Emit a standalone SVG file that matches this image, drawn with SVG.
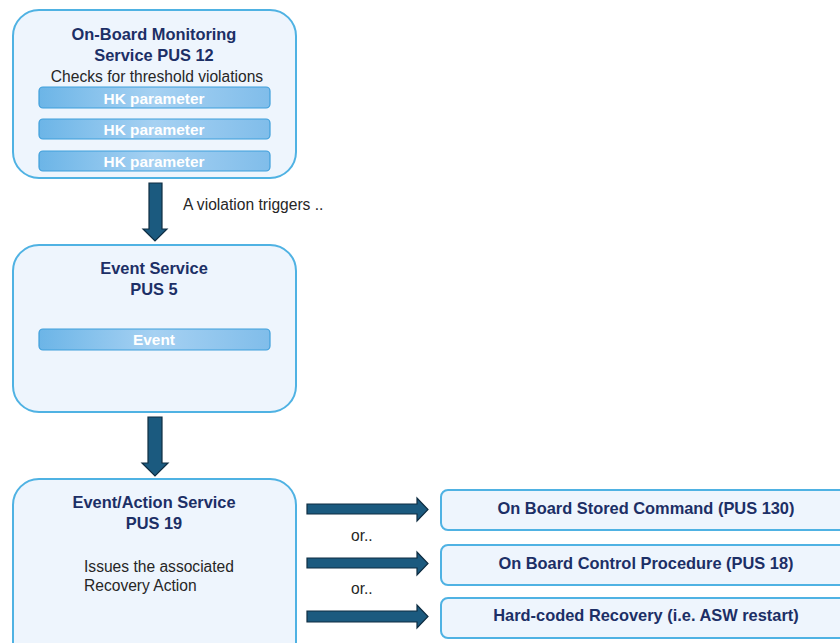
<svg xmlns="http://www.w3.org/2000/svg" width="840" height="643" viewBox="0 0 840 643">
  <defs>
    <linearGradient id="barFill" x1="0" y1="0" x2="1" y2="0">
      <stop offset="0" stop-color="#6cb5e7"/>
      <stop offset="0.5" stop-color="#a6d1f2"/>
      <stop offset="1" stop-color="#80bdea"/>
    </linearGradient>
  </defs>
  <style>
    .service { fill: #eef5fd; stroke: #4fb2e3; stroke-width: 2; }
    .target { fill: #eef5fd; stroke: #4fb2e3; stroke-width: 2; }
    .bar { fill: url(#barFill); stroke: #3f9fdb; stroke-width: 1.2; }
    .title { font-family: "Liberation Sans", Arial, sans-serif; font-weight: bold; font-size: 16.4px; fill: #1c2f66; text-anchor: middle; }
    .barText { font-family: "Liberation Sans", Arial, sans-serif; font-weight: bold; font-size: 15.4px; fill: #ffffff; text-anchor: middle; }
    .body { font-family: "Liberation Sans", Arial, sans-serif; font-size: 15.6px; fill: #262626; }
    .arrow { fill: #1b5a7f; stroke: #0f2d42; stroke-width: 1.2; stroke-linejoin: miter; }
  </style>
  <rect width="840" height="643" fill="#ffffff"/>

  <!-- PUS 12 monitoring service -->
  <g id="monitoring">
    <rect class="service" x="13" y="10" width="283" height="168" rx="26" ry="26"/>
    <text class="title" x="154" y="40">On-Board Monitoring</text>
    <text class="title" x="154" y="61">Service PUS 12</text>
    <text class="body" x="157" y="81.5" text-anchor="middle">Checks for threshold violations</text>
    <rect class="bar" x="39" y="87" width="231" height="21" rx="4"/>
    <text class="barText" x="154" y="103.5">HK parameter</text>
    <rect class="bar" x="39" y="119" width="231" height="20" rx="4"/>
    <text class="barText" x="154" y="134.5">HK parameter</text>
    <rect class="bar" x="39" y="151" width="231" height="20" rx="4"/>
    <text class="barText" x="154" y="166.5">HK parameter</text>
  </g>

  <!-- PUS 5 event service -->
  <g id="event">
    <rect class="service" x="13" y="245" width="283" height="167" rx="26" ry="26"/>
    <text class="title" x="154" y="274">Event Service</text>
    <text class="title" x="154" y="295">PUS 5</text>
    <rect class="bar" x="39" y="329" width="231" height="21" rx="4"/>
    <text class="barText" x="154" y="345">Event</text>
  </g>

  <!-- PUS 19 event/action service -->
  <g id="event-action">
    <rect class="service" x="13" y="479" width="283" height="190" rx="26" ry="26"/>
    <text class="title" x="154" y="508">Event/Action Service</text>
    <text class="title" x="154" y="529">PUS 19</text>
    <text class="body" x="84" y="571.5">Issues the associated</text>
    <text class="body" x="84" y="590.5">Recovery Action</text>
  </g>

  <!-- recovery options -->
  <g id="stored-command">
    <rect class="target" x="441" y="490" width="420" height="40" rx="7"/>
    <text class="title" x="646" y="514">On Board Stored Command (PUS 130)</text>
  </g>
  <g id="control-procedure">
    <rect class="target" x="441" y="545" width="420" height="40" rx="7"/>
    <text class="title" x="646" y="569">On Board Control Procedure (PUS 18)</text>
  </g>
  <g id="hardcoded-recovery">
    <rect class="target" x="441" y="598" width="420" height="40" rx="7"/>
    <text class="title" x="646" y="621">Hard-coded Recovery (i.e. ASW restart)</text>
  </g>

  <!-- block arrows between services -->
  <g id="connectors">
    <polygon class="arrow" points="149,183 162,183 162,229 167,229 155,241 143,229 149,229"/>
    <polygon class="arrow" points="148,417 162,417 162,463 168,463 155,476 142,463 148,463"/>
    <polygon class="arrow" points="307,504 417,504 417,498 428,509.5 417,521 417,514 307,514"/>
    <polygon class="arrow" points="307,558 417,558 417,552 428,563.5 417,575 417,568 307,568"/>
    <polygon class="arrow" points="307,611 417,611 417,605 428,616.5 417,628 417,622 307,622"/>
  </g>

  <text class="body" x="183" y="210" font-size="15">A violation triggers ..</text>
  <text class="body" x="351" y="541">or..</text>
  <text class="body" x="351" y="594">or..</text>
</svg>
